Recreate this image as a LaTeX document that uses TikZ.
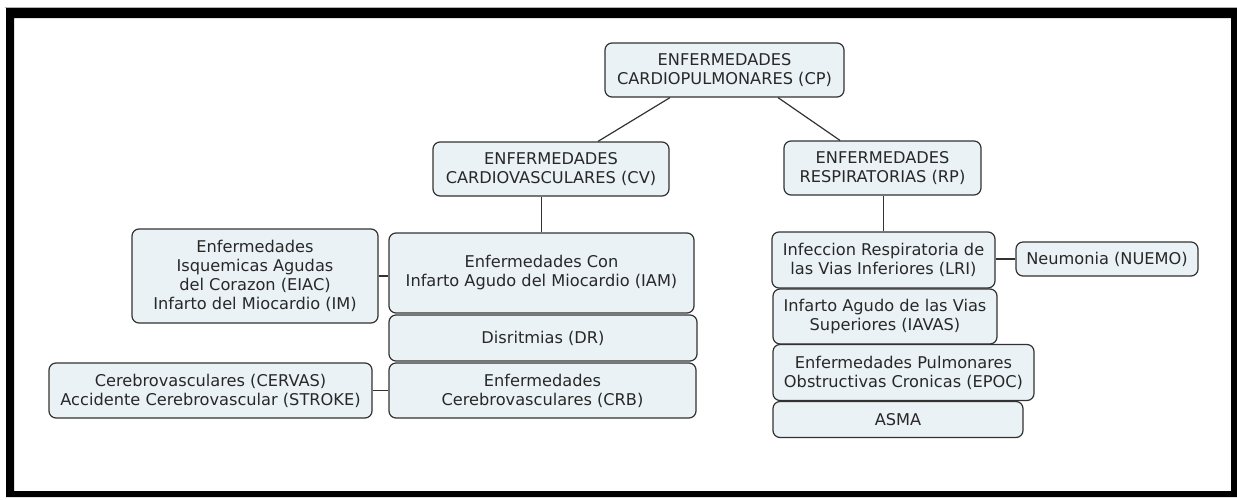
\documentclass[tikz,border=0pt]{standalone}
\usepackage{fontspec}
\setmainfont{DejaVu Sans}
\definecolor{boxfill}{RGB}{235,242,245}
\definecolor{boxline}{RGB}{50,50,50}
\definecolor{txt}{RGB}{40,40,40}
\begin{document}
\begin{tikzpicture}[x=1pt,y=-1pt,
  cbox/.style={draw=boxline, fill=boxfill, rounded corners=7pt, line width=1.2pt,
    inner sep=0pt, align=center, text=txt, font=\fontsize{16.2}{19}\selectfont},
  link/.style={draw=boxline, line width=1.2pt}]
\useasboundingbox (0,0) rectangle (1237,499);
% frame
\fill[black, even odd rule] (6,8) rectangle (1237,497) (14,18) rectangle (1231,491);
\draw[gray!60, line width=0.8pt] (5,7.5) -- (1237,7.5);
% nodes
\node[cbox, minimum width=239pt, minimum height=54pt] (CP) at (724.5,70) {ENFERMEDADES\\CARDIOPULMONARES (CP)};
\node[cbox, minimum width=236pt, minimum height=54pt] (CV) at (551,169) {ENFERMEDADES\\CARDIOVASCULARES (CV)};
\node[cbox, minimum width=197pt, minimum height=54pt] (RP) at (882.5,168) {ENFERMEDADES\\RESPIRATORIAS (RP)};
\node[cbox, minimum width=246pt, minimum height=94pt] (EIAC) at (255,276) {Enfermedades\\Isquemicas Agudas\\del Corazon (EIAC)\\Infarto del Miocardio (IM)};
\node[cbox, minimum width=305pt, minimum height=80pt] (IAM) at (541.5,273) {Enfermedades Con\\Infarto Agudo del Miocardio (IAM)};
\node[cbox, minimum width=308pt, minimum height=46pt] (DR) at (543,338) {Disritmias (DR)};
\node[cbox, minimum width=307pt, minimum height=55pt] (CRB) at (542.5,390.5) {Enfermedades\\Cerebrovasculares (CRB)};
\node[cbox, minimum width=323pt, minimum height=55pt] (CERVAS) at (210.5,390.5) {Cerebrovasculares (CERVAS)\\Accidente Cerebrovascular (STROKE)};
\node[cbox, minimum width=223pt, minimum height=56pt] (LRI) at (883.5,260) {Infeccion Respiratoria de\\las Vias Inferiores (LRI)};
\node[cbox, minimum width=182pt, minimum height=34pt] (NUEMO) at (1107,259) {Neumonia (NUEMO)};
\node[cbox, minimum width=224pt, minimum height=55pt] (IAVAS) at (885,316.5) {Infarto Agudo de las Vias\\Superiores (IAVAS)};
\node[cbox, minimum width=261pt, minimum height=56pt] (EPOC) at (903.5,372.5) {Enfermedades Pulmonares\\Obstructivas Cronicas (EPOC)};
\node[cbox, minimum width=250pt, minimum height=36pt] (ASMA) at (898,419.5) {ASMA};
% connectors
\draw[link] ([xshift=-54.5pt]CP.south) -- ([xshift=47pt]CV.north);
\draw[link] ([xshift=53.5pt]CP.south) -- ([xshift=-42.5pt]RP.north);
\draw[link] (IAM.north) -- (IAM.north |- CV.south);
\draw[link] (LRI.north) -- (LRI.north |- RP.south);
\draw[link] (EIAC.east) -- (EIAC.east -| IAM.west);
\draw[link] (CERVAS.east) -- (CERVAS.east -| CRB.west);
\draw[link] (NUEMO.west) -- (NUEMO.west -| LRI.east);
\end{tikzpicture}
\end{document}
